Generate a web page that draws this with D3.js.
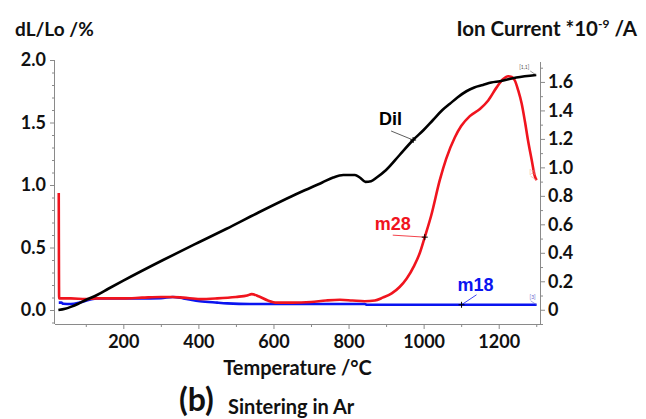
<!DOCTYPE html>
<html>
<head>
<meta charset="utf-8">
<script src="https://cdn.jsdelivr.net/npm/d3@7"></script>
<style>
  html, body { margin: 0; padding: 0; background: #fff; }
  svg { display: block; }
  text { font-family: Lato, "Open Sans", sans-serif; font-weight: bold; }
</style>
</head>
<body>
<svg id="chart" width="646" height="419"></svg>
<script>
// Dilatometer curve: temperature (°C) and relative length change dL/Lo (%)
const dilT = [27, 45, 60, 80, 100, 130, 160, 200, 306, 400, 475, 560, 670, 730, 759, 786, 817, 830, 845, 860, 875, 900, 936, 972, 1000, 1025, 1050, 1070, 1090, 1114, 1135, 1158, 1180, 1203, 1247, 1300];
const dilV = [0.00, 0.01, 0.025, 0.05, 0.08, 0.12, 0.17, 0.235, 0.40, 0.54, 0.65, 0.78, 0.94, 1.02, 1.06, 1.08, 1.08, 1.06, 1.025, 1.03, 1.06, 1.12, 1.24, 1.36, 1.44, 1.52, 1.60, 1.65, 1.70, 1.75, 1.78, 1.80, 1.82, 1.83, 1.86, 1.88];

// Mass 28 ion current (*10^-9 A)
const m28T = [28, 29, 60, 100, 130, 200, 250, 300, 330, 360, 404, 450, 500, 530, 542, 560, 585, 609, 650, 700, 740, 777, 810, 843, 870, 891, 915, 936, 955, 975, 990, 1003, 1020, 1043, 1060, 1083, 1100, 1123, 1150, 1172, 1194, 1212, 1225, 1235, 1243, 1252, 1261, 1270, 1278, 1288, 1296, 1301];
const m28V = [0.82, 0.08, 0.08, 0.075, 0.08, 0.08, 0.085, 0.09, 0.09, 0.085, 0.075, 0.08, 0.09, 0.10, 0.11, 0.095, 0.065, 0.05, 0.05, 0.055, 0.065, 0.07, 0.065, 0.06, 0.065, 0.085, 0.115, 0.16, 0.22, 0.31, 0.40, 0.51, 0.66, 0.91, 1.06, 1.21, 1.29, 1.36, 1.41, 1.47, 1.56, 1.62, 1.64, 1.635, 1.61, 1.54, 1.45, 1.32, 1.19, 1.05, 0.94, 0.91];

// Mass 18 ion current (*10^-9 A)
const m18T = [28, 35, 40, 60, 90, 129, 245, 300, 332, 360, 404, 450, 477, 537, 843, 850, 1301];
const m18V = [0.05, 0.05, 0.042, 0.04, 0.055, 0.08, 0.08, 0.082, 0.09, 0.08, 0.06, 0.05, 0.045, 0.04, 0.04, 0.035, 0.035];

// Axis ticks
const xMajor = [200, 400, 600, 800, 1000, 1200];
const xMinor = [100, 300, 500, 700, 900, 1100, 1300];
const yLeftMajor = [0.0, 0.5, 1.0, 1.5, 2.0];
const yRightMajor = [0, 0.2, 0.4, 0.6, 0.8, 1.0, 1.2, 1.4, 1.6];

// Curve labels placed at a temperature on each curve
const labelDil = { text: "Dil", T: 972 };
const labelM28 = { text: "m28", T: 1003 };
const labelM18 = { text: "m18", T: 1101 };

const svg = d3.select("#chart");
const plotLeft = 55, plotRight = 540, plotTop = 60, plotBottom = 324;

const x = d3.scaleLinear().domain([18, 1310]).range([plotLeft, plotRight]);
const yL = d3.scaleLinear().domain([-0.112, 2.0]).range([plotBottom, plotTop]);
const yR = d3.scaleLinear().domain([-0.1, 1.74]).range([plotBottom, 62]);

const axisColor = "#8a8a8a";
const minorSteps = (lo, hi, step, majors) => d3.range(Math.round(lo / step), Math.round(hi / step) + 1)
  .map(i => +(i * step).toFixed(3))
  .filter(v => !majors.some(m => Math.abs(m - v) < 1e-6));

function styleAxis(g) {
  g.selectAll(".domain").attr("stroke", axisColor).attr("stroke-width", 1);
  g.selectAll(".tick line").attr("stroke", axisColor);
  g.selectAll(".tick text").attr("fill", "#111").style("font-size", "18px").style("font-weight", "bold");
}

// Bottom axis
const gx = svg.append("g").attr("transform", `translate(0,${plotBottom})`)
  .call(d3.axisBottom(x).tickValues(xMajor).tickSize(5).tickPadding(6).tickFormat(d3.format("d")));
styleAxis(gx);
gx.select(".domain").attr("d", `M${plotLeft},0.5H${plotRight}`);
svg.append("g").attr("transform", `translate(0,${plotBottom})`)
  .call(d3.axisBottom(x).tickValues(xMinor).tickSize(3).tickFormat(""))
  .call(g => { g.select(".domain").remove(); g.selectAll("line").attr("stroke", axisColor); });

// Left axis
const gl = svg.append("g").attr("transform", `translate(${plotLeft},0)`)
  .call(d3.axisLeft(yL).tickValues(yLeftMajor).tickSize(5).tickPadding(4).tickFormat(d3.format(".1f")));
styleAxis(gl);
gl.select(".domain").attr("d", `M-0.5,${plotTop}V${plotBottom}`);
svg.append("g").attr("transform", `translate(${plotLeft},0)`)
  .call(d3.axisLeft(yL).tickValues(minorSteps(-0.1, 1.9, 0.1, yLeftMajor)).tickSize(3).tickFormat(""))
  .call(g => { g.select(".domain").remove(); g.selectAll("line").attr("stroke", axisColor); });

// Right axis
const gr = svg.append("g").attr("transform", `translate(${plotRight},0)`)
  .call(d3.axisRight(yR).tickValues(yRightMajor).tickSize(5).tickPadding(3)
    .tickFormat(d => d === 0 ? "0" : d3.format(".1f")(d)));
styleAxis(gr);
gr.select(".domain").attr("d", `M0.5,62V${plotBottom}`);
svg.append("g").attr("transform", `translate(${plotRight},0)`)
  .call(d3.axisRight(yR).tickValues(minorSteps(-0.1, 1.7, 0.1, yRightMajor)).tickSize(3).tickFormat(""))
  .call(g => { g.select(".domain").remove(); g.selectAll("line").attr("stroke", axisColor); });

// Series
const dil = d3.zip(dilT, dilV);
const m28 = d3.zip(m28T, m28V);
const m18 = d3.zip(m18T, m18V);

const lineL = d3.line().x(d => x(d[0])).y(d => yL(d[1])).curve(d3.curveMonotoneX);
const lineR = d3.line().x(d => x(d[0])).y(d => yR(d[1])).curve(d3.curveMonotoneX);

svg.append("path").datum(m18).attr("d", lineR)
  .attr("fill", "none").attr("stroke", "#0a14f0").attr("stroke-width", 2.6);
svg.append("path").datum(m28).attr("d", lineR)
  .attr("fill", "none").attr("stroke", "#f0141e").attr("stroke-width", 2.6);
svg.append("path").datum(dil).attr("d", lineL)
  .attr("fill", "none").attr("stroke", "#000").attr("stroke-width", 2.6);

// Curve labels with leader lines and cross markers
const interp = (ts, vs, t) => {
  const i = d3.bisectLeft(ts, t);
  if (i <= 0) return vs[0];
  if (i >= ts.length) return vs[vs.length - 1];
  const f = (t - ts[i - 1]) / (ts[i] - ts[i - 1]);
  return vs[i - 1] + f * (vs[i] - vs[i - 1]);
};

function curveLabel(lbl, ts, vs, yScale, color, dx, dy, lx, ly) {
  const px = x(lbl.T), py = yScale(interp(ts, vs, lbl.T));
  svg.append("line").attr("x1", px + lx).attr("y1", py + ly).attr("x2", px).attr("y2", py)
    .attr("stroke", color === "#000" ? "#333" : color).attr("stroke-width", 0.8);
  svg.append("path").attr("d", `M${px - 3},${py}H${px + 3}M${px},${py - 3}V${py + 3}`)
    .attr("stroke", "#000").attr("stroke-width", 1);
  svg.append("text").attr("x", px + dx).attr("y", py + dy).attr("fill", color)
    .style("font-family", "'Liberation Sans', Arial, sans-serif").style("font-size", "18px")
    .text(lbl.text);
}
curveLabel(labelDil, dilT, dilV, yL, "#000", -34, -15, -22, -9);
curveLabel(labelM28, m28T, m28V, yR, "#f0141e", -50, -7, -32, -2);
curveLabel(labelM18, m18T, m18V, yR, "#0a14f0", -4, -14, 15, -10);

// Small end-of-curve tags
function endTag(ts, vs, yScale, color, txt, ox, oy) {
  const px = x(ts[ts.length - 1]), py = yScale(vs[vs.length - 1]);
  svg.append("line").attr("x1", px - 6).attr("y1", py + oy + 2).attr("x2", px).attr("y2", py)
    .attr("stroke", color).attr("stroke-width", 0.6);
  svg.append("text").attr("x", px + ox).attr("y", py + oy).attr("fill", color)
    .style("font-size", "5px").style("font-weight", "normal").text(txt);
}
endTag(dilT, dilV, yL, "#555", "[1,1]", -17, -6);
endTag(m28T, m28V, yR, "#e88", "[2]", -7, -6);
endTag(m18T, m18V, yR, "#66c", "[3]", -7, -6);

// Titles
svg.append("text").attr("x", 15).attr("y", 36).attr("fill", "#111").style("font-size", "19px").text("dL/Lo /%");
const rt = svg.append("text").attr("x", 637).attr("y", 36).attr("text-anchor", "end").attr("fill", "#111").style("font-size", "20.5px");
rt.append("tspan").text("Ion Current *10");
rt.append("tspan").attr("dy", -8).style("font-size", "12px").text("-9");
rt.append("tspan").attr("dy", 8).text(" /A");

svg.append("text").attr("x", (plotLeft + plotRight) / 2).attr("y", 375).attr("text-anchor", "middle")
  .attr("fill", "#111").style("font-size", "20px").text("Temperature /°C");

svg.append("text").attr("x", 179).attr("y", 411).attr("fill", "#111").style("font-size", "32px").text("(b)");
svg.append("text").attr("x", 228).attr("y", 414).attr("fill", "#111").style("font-size", "20px").text("Sintering in Ar");
</script>
</body>
</html>
